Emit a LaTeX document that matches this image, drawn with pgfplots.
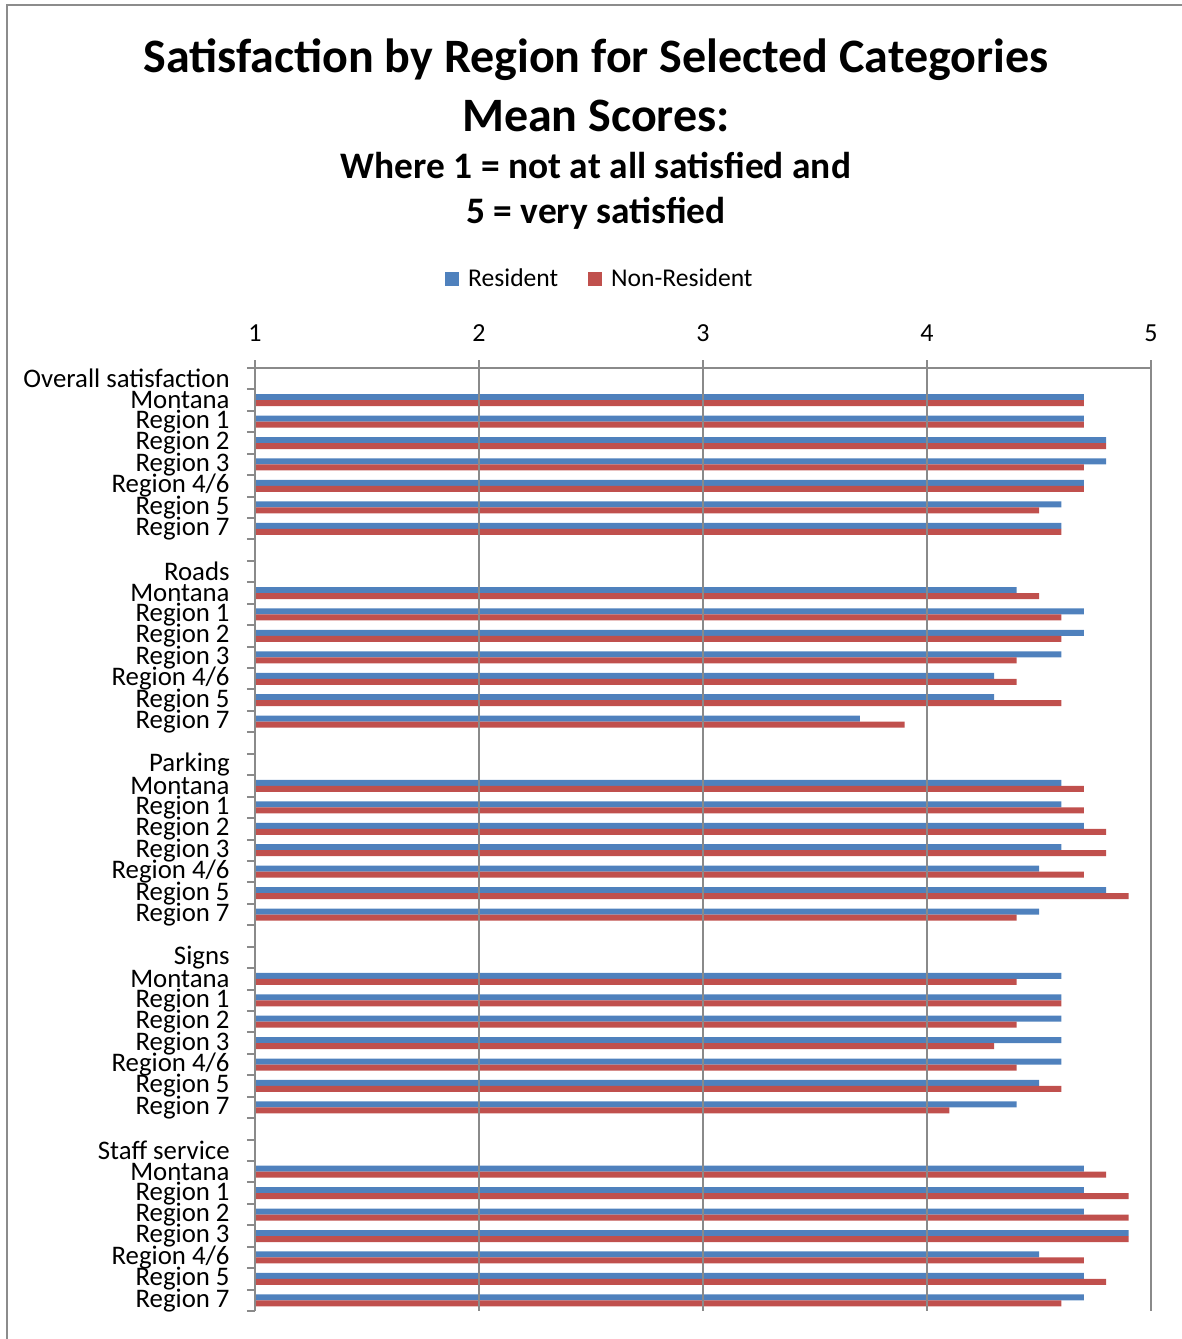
\documentclass[border=0pt]{standalone}
\usepackage{fontspec}
\setmainfont{Carlito}
\usepackage{pgfplots}
\pgfplotsset{compat=1.18}
\usepackage{pgfplotstable}

\definecolor{resblue}{HTML}{4F81BD}
\definecolor{nonred}{HTML}{C0504D}
\definecolor{gridgray}{HTML}{8A8A8A}
\definecolor{framegray}{HTML}{8C8C8C}

% Mean scores; pos = row on the category axis (header and spacer rows have no bars)
\pgfplotstableread{
pos res non
1  4.7 4.7
2  4.7 4.7
3  4.8 4.8
4  4.8 4.7
5  4.7 4.7
6  4.6 4.5
7  4.6 4.6
10 4.4 4.5
11 4.7 4.6
12 4.7 4.6
13 4.6 4.4
14 4.3 4.4
15 4.3 4.6
16 3.7 3.9
19 4.6 4.7
20 4.6 4.7
21 4.7 4.8
22 4.6 4.8
23 4.5 4.7
24 4.8 4.9
25 4.5 4.4
28 4.6 4.4
29 4.6 4.6
30 4.6 4.4
31 4.6 4.3
32 4.6 4.4
33 4.5 4.6
34 4.4 4.1
37 4.7 4.8
38 4.7 4.9
39 4.7 4.9
40 4.9 4.9
41 4.5 4.7
42 4.7 4.8
43 4.7 4.6
}\scores

\begin{document}
\begin{tikzpicture}
\useasboundingbox (0,0) rectangle (591bp,-669.5bp);
% chart frame (left and top edges)
\draw[framegray, line width=1bp] (3.5bp,-669.5bp) -- (3.5bp,-2.5bp) -- (591bp,-2.5bp);

% titles
\node[anchor=base, font=\fontsize{24bp}{29bp}\selectfont\bfseries] at (298bp,-36bp)
  {Satisfaction by Region for Selected Categories};
\node[anchor=base, font=\fontsize{24bp}{29bp}\selectfont\bfseries] at (298bp,-65.5bp)
  {Mean Scores:};
\node[anchor=base, font=\fontsize{18.7bp}{22bp}\selectfont\bfseries] at (298bp,-89bp)
  {Where 1 = not at all satisfied and};
\node[anchor=base, font=\fontsize{18.7bp}{22bp}\selectfont\bfseries] at (298bp,-111.5bp)
  {5 = very satisfied};

\begin{axis}[
  at={(127.5bp,-184bp)}, anchor=north west,
  scale only axis,
  width=448bp, height=471.5bp,
  xbar, bar width=3bp,
  xmin=1, xmax=5,
  ymin=-0.5, ymax=43.5,
  y dir=reverse,
  axis x line*=top,
  axis y line*=left,
  axis line style={gridgray, line width=1bp},
  every axis plot/.append style={draw=none},
  xtick={1,2,3,4,5},
  xmajorgrids,
  major grid style={gridgray, line width=1bp},
  tick align=outside,
  tick style={gridgray, line width=1bp},
  major tick length=4bp,
  ytick={0,...,43},
  yticklabels={Overall satisfaction,Montana,Region 1,Region 2,Region 3,Region 4/6,Region 5,Region 7,,
    Roads,Montana,Region 1,Region 2,Region 3,Region 4/6,Region 5,Region 7,,
    Parking,Montana,Region 1,Region 2,Region 3,Region 4/6,Region 5,Region 7,,
    Signs,Montana,Region 1,Region 2,Region 3,Region 4/6,Region 5,Region 7,,
    Staff service,Montana,Region 1,Region 2,Region 3,Region 4/6,Region 5,Region 7},
  y tick style={draw=none},
  minor ytick={-0.5,0.5,...,43.5},
  minor y tick style={draw=gridgray, line width=1bp},
  minor tick length=4bp,
  every tick label/.append style={font=\fontsize{13bp}{15bp}\selectfont, text=black},
  yticklabel style={font=\fontsize{13.4bp}{15bp}\selectfont, anchor=east, inner sep=0pt, xshift=-8.5bp},
  /pgf/number format/assume math mode=true,
  xticklabel style={anchor=south, inner sep=0pt, yshift=9bp},
  axis on top,
  legend style={draw=none, fill=none, at={(axis description cs:0.386,1.0945)}, anchor=center,
    legend columns=2, font=\fontsize{12.8bp}{15bp}\selectfont,
    /tikz/every odd column/.append style={column sep=2.5bp},
    /tikz/every even column/.append style={column sep=13bp}},
  legend image code/.code={\fill[#1] (0bp,-3.5bp) rectangle (7bp,3.5bp);},
]
\addplot[fill=resblue, bar shift=1.5bp] table[x=res, y=pos] {\scores};
\addplot[fill=nonred, bar shift=-1.5bp] table[x=non, y=pos] {\scores};
\legend{Resident, Non-Resident}
\end{axis}
\end{tikzpicture}
\end{document}
